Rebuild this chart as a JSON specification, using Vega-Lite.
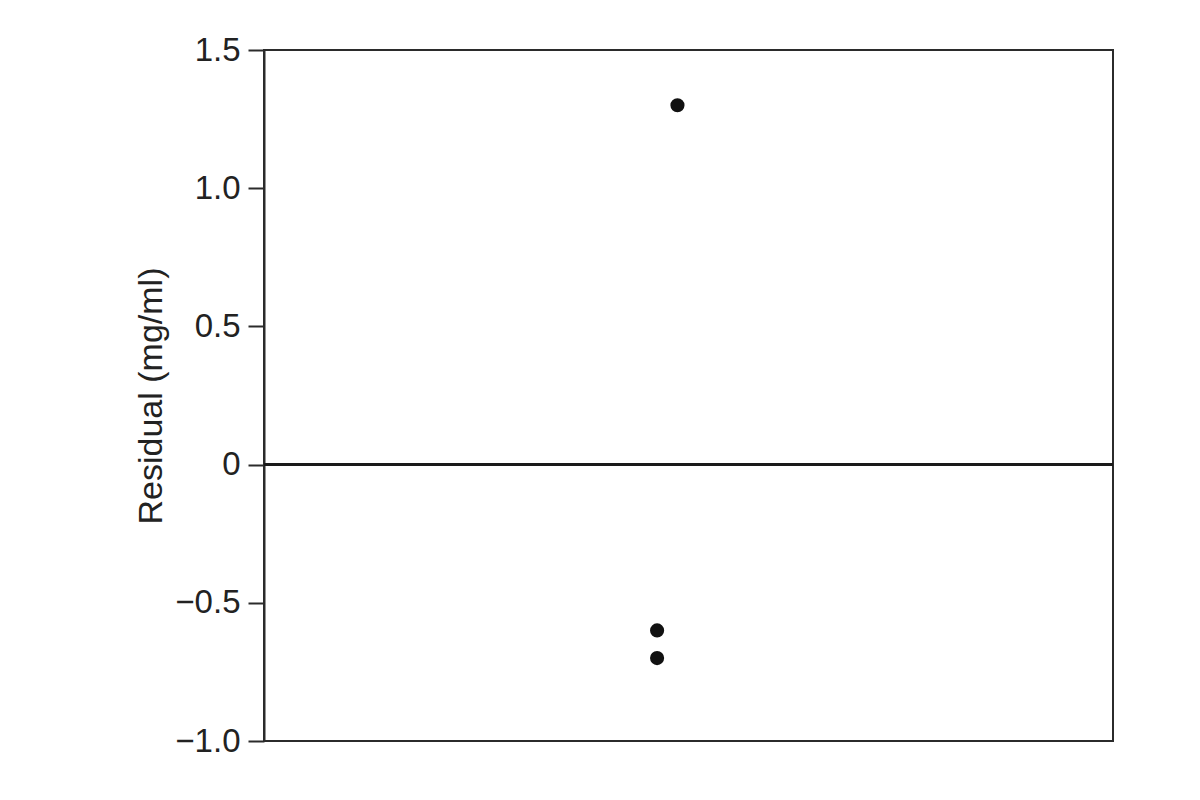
{
  "$schema": "https://vega.github.io/schema/vega-lite/v6.json",
  "description": "Residual plot, residual in mg/ml.",
  "autosize": "none",
  "padding": {"left": 264, "top": 50, "right": 87, "bottom": 59},
  "width": 849,
  "height": 691,
  "background": "white",
  "config": {
    "view": {"stroke": "#2b2b2b", "strokeWidth": 2},
    "font": "Liberation Sans"
  },
  "data": {
    "values": [
      {"x": 0.487, "residual": 1.3},
      {"x": 0.463, "residual": -0.6},
      {"x": 0.463, "residual": -0.7}
    ]
  },
  "layer": [
    {
      "mark": {"type": "rule", "stroke": "#1a1a1a", "strokeWidth": 3},
      "encoding": {"y": {"datum": 0, "type": "quantitative"}}
    },
    {
      "mark": {"type": "point", "filled": true, "shape": "circle", "size": 200, "color": "#111111", "opacity": 1},
      "encoding": {
        "x": {
          "field": "x",
          "type": "quantitative",
          "scale": {"domain": [0, 1], "nice": false, "zero": false},
          "axis": null
        },
        "y": {
          "field": "residual",
          "type": "quantitative",
          "scale": {"domain": [-1, 1.5], "nice": false, "zero": false},
          "axis": {
            "title": "Residual (mg/ml)",
            "values": [-1, -0.5, 0, 0.5, 1, 1.5],
            "labelExpr": "datum.value == 0 ? '0' : replace(format(datum.value, '.1f'), '-', '–')",
            "grid": false,
            "domainColor": "#2b2b2b",
            "domainWidth": 2,
            "tickColor": "#2b2b2b",
            "tickWidth": 2,
            "tickSize": 16,
            "labelPadding": 8,
            "labelFontSize": 33,
            "labelColor": "#222222",
            "labelFont": "Liberation Sans",
            "titleFont": "Liberation Sans",
            "titleFontSize": 34,
            "titleFontWeight": "normal",
            "titleColor": "#222222",
            "titlePadding": 6
          }
        }
      }
    }
  ]
}
